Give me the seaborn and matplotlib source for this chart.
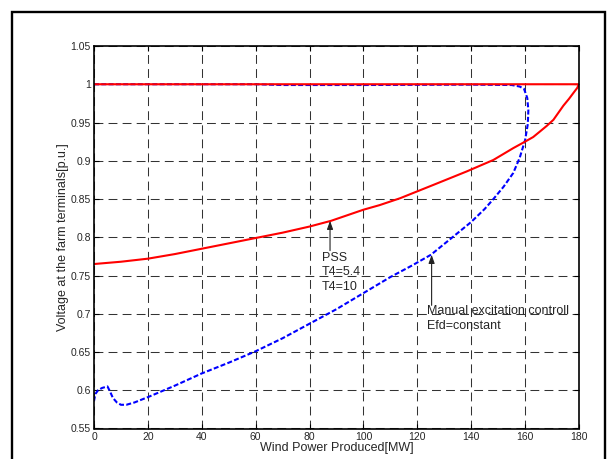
import matplotlib
matplotlib.use("Agg")
import matplotlib.pyplot as plt
import matplotlib.patches as mpatches
import seaborn as sns
import pandas as pd

# ---------------- data ----------------
pss_x = [0, 180, 180, 179.3, 178, 176.3, 174.2, 172.3, 170.5, 168, 165.6, 163, 160, 155.6,
         148.2, 138.3, 126, 113.6, 106, 100, 88, 80, 70, 60, 50, 40, 30, 20, 10, 0]
pss_y = [1.0, 1.0, 1.0, 0.995, 0.989, 0.981, 0.972, 0.9625, 0.9535, 0.9455, 0.9385, 0.931,
         0.925, 0.9165, 0.901, 0.886, 0.8685, 0.851, 0.842, 0.836, 0.8215, 0.814, 0.806, 0.799,
         0.792, 0.785, 0.778, 0.772, 0.768, 0.765]

man_x = [0, 60, 70, 100, 140, 155, 158, 159.6, 160.8, 161.2, 161, 160, 158, 155.6, 152, 148,
         145, 140, 132, 125, 118, 110, 100, 90, 80, 70, 60, 50, 40, 30, 20, 15, 12, 10, 8.5,
         7, 6, 5, 3, 1.5, 0.5, 0]
man_y = [1.0, 1.0, 0.999, 0.999, 0.9995, 0.999, 0.997, 0.994, 0.982, 0.966, 0.948, 0.927,
         0.904, 0.884, 0.866, 0.849, 0.837, 0.820, 0.797, 0.777, 0.763, 0.748, 0.727, 0.706,
         0.687, 0.668, 0.651, 0.636, 0.622, 0.606, 0.591, 0.584, 0.581, 0.581, 0.584, 0.590,
         0.598, 0.605, 0.603, 0.600, 0.595, 0.586]

x_ticks = [0, 20, 40, 60, 80, 100, 120, 140, 160, 180]
y_ticks = [0.55, 0.6, 0.65, 0.7, 0.75, 0.8, 0.85, 0.9, 0.95, 1.0, 1.05]
x_label = "Wind Power Produced[MW]"
y_label = "Voltage at the farm terminals[p.u.]"
pss_text = "PSS\nT4=5.4\nT4=10"
man_text = "Manual excitation controll\nEfd=constant"

# ---------------- styling ----------------
sns.set_style("white")
plt.rcParams['font.family'] = ['Liberation Sans', 'DejaVu Sans']
FS_TICK = 7.5
FS = 9.0

fig = plt.figure(figsize=(6.16, 4.59), dpi=100)
ax = fig.add_axes([94/616, 1-428.5/459, (579-94)/616, (428.5-46)/459])

df_man = pd.DataFrame({"x": man_x, "y": man_y})
df_pss = pd.DataFrame({"x": pss_x, "y": pss_y})

sns.lineplot(data=df_man, x="x", y="y", sort=False, estimator=None, ax=ax,
             color="#0000ff", linewidth=1.5, linestyle=(0, (2.4, 1.1)), zorder=3)
sns.lineplot(data=df_pss, x="x", y="y", sort=False, estimator=None, ax=ax,
             color="#ff0000", linewidth=1.5, zorder=4)

ax.set_xlim(0, 180)
ax.set_ylim(0.55, 1.05)
ax.set_xticks(x_ticks)
ax.set_yticks(y_ticks)
ax.set_xticklabels([f"{v:g}" for v in x_ticks], fontsize=FS_TICK)
ax.set_yticklabels([f"{v:g}" for v in y_ticks], fontsize=FS_TICK)
ax.tick_params(direction="in", length=3.5, width=0.8, color="black",
               top=True, right=True, bottom=True, left=True, pad=2.2)
ax.grid(True, color="#333333", linewidth=0.75, linestyle=(0, (8.5, 5)))
for s in ax.spines.values():
    s.set_color("black")
    s.set_linewidth(1.2)
    s.set_zorder(5)

ax.set_xlabel(x_label, fontsize=FS, labelpad=0)
ax.set_ylabel(y_label, fontsize=FS, labelpad=1.5)

arrow = dict(arrowstyle="-|>,head_length=0.5,head_width=0.18", color="#222222",
             lw=0.8, shrinkA=0, shrinkB=0)
ax.annotate("", xy=(87.6, 0.8215), xytext=(87.6, 0.7825), arrowprops=arrow, zorder=6)
ax.text(84.5, 0.7813, pss_text, fontsize=FS, va="top", ha="left", linespacing=1.3, zorder=6)

ax.annotate("", xy=(125.3, 0.777), xytext=(125.3, 0.711), arrowprops=arrow, zorder=6)
ax.text(123.75, 0.711, man_text, fontsize=FS, va="top", ha="left", linespacing=1.35, zorder=6)

# outer frame
frame = mpatches.Rectangle((12/616, -0.05), (605-12)/616, 1.05 - 12/459,
                           transform=fig.transFigure, fill=False,
                           edgecolor="black", linewidth=1.7)
fig.patches.append(frame)

fig.savefig("out.png", dpi=100, facecolor="white")
